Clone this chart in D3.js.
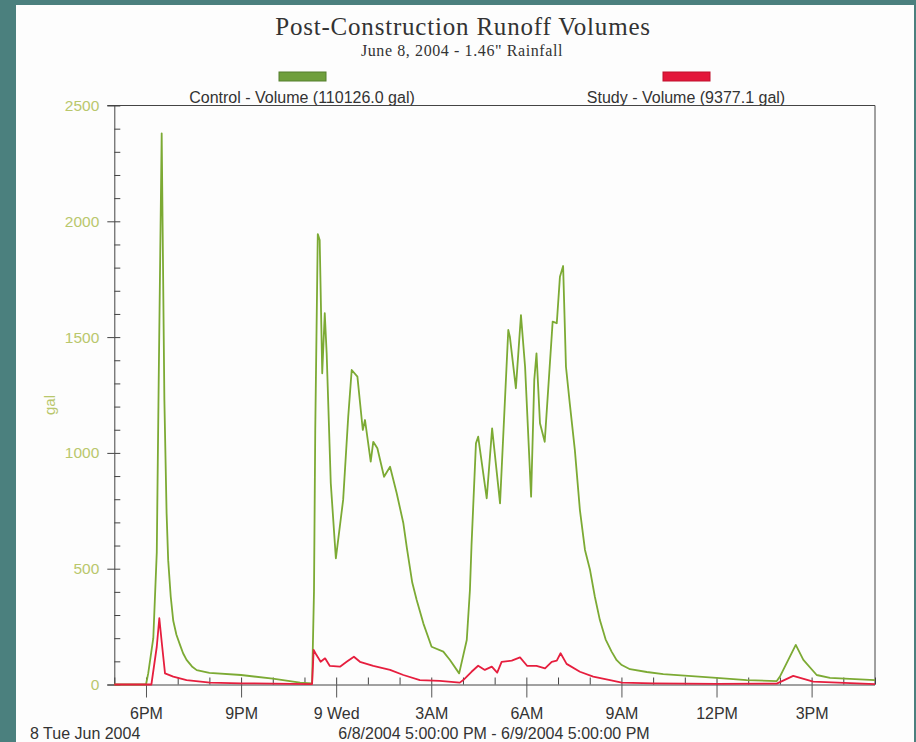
<!DOCTYPE html>
<html>
<head>
<meta charset="utf-8">
<script src="https://cdn.jsdelivr.net/npm/d3@7"></script>
<style>
  html, body { margin: 0; padding: 0; background: #4b807e; }
  #chart { position: absolute; left: 0; top: 0; }
  text { font-family: Arial, "Liberation Sans", sans-serif; }
</style>
</head>
<body>
<div id="chart"></div>
<script>
// hours after 6/8/2004 5:00 PM, gallons
var controlSeries = [
  [0,0],[1.0,0],[1.07,48],[1.23,200],[1.34,570],[1.40,1300],[1.495,2380],[1.58,1228],
  [1.65,739],[1.70,537],[1.78,380],[1.86,275],[1.96,215],[2.07,172],[2.17,135],[2.28,106],
  [2.45,78],[2.6,62],[3.0,50],[4.0,41],
  [5.0,25],[5.86,8],[6.24,5],[6.30,400],[6.34,1100],[6.42,1945],[6.48,1919],[6.56,1344],
  [6.64,1603],[6.70,1430],[6.83,869],[6.99,545],[7.22,797],[7.38,1156],[7.49,1358],
  [7.67,1329],[7.84,1099],[7.91,1142],[8.09,962],[8.17,1048],[8.30,1020],[8.51,897],
  [8.70,940],[8.91,826],[9.12,696],[9.23,590],[9.40,440],[9.54,365],[9.75,264],[10.01,163],
  [10.38,142],[10.59,106],[10.88,48],[11.12,192],[11.22,408],[11.27,600],[11.41,1041],
  [11.48,1070],[11.75,804],[11.92,1106],[12.17,782],[12.43,1531],[12.48,1502],[12.67,1279],
  [12.83,1595],[12.96,1372],[13.15,811],[13.25,1315],[13.32,1430],[13.43,1128],[13.58,1048],
  [13.83,1567],[13.96,1560],[14.06,1761],[14.16,1807],[14.25,1372],[14.37,1214],[14.53,1013],
  [14.69,753],[14.85,581],[15.01,494],[15.16,380],[15.32,278],[15.50,195],[15.69,142],
  [15.85,105],[16.01,84],[16.27,66],[16.8,54],
  [17.32,45],[19.0,29],[19.95,19],[20.9,15],[21.0,34],[21.50,171],[21.74,106],[22.16,41],
  [22.58,29],[24,19]
];
var studySeries = [
  [0,0],[1.17,0],[1.34,163],[1.42,286],[1.50,178],[1.60,48],[1.86,34],[2.28,19],[3.02,8],
  [4,5],[5,4],[6.2,2],[6.24,2],[6.29,149],[6.38,127],[6.51,98],[6.65,113],[6.80,80],
  [7.12,77],[7.33,98],[7.56,120],[7.75,98],[8.17,80],[8.70,63],[9.12,41],[9.64,19],
  [10.27,16],[10.90,8],[11.01,19],[11.27,55],[11.48,81],[11.69,63],[11.91,77],[12.08,51],
  [12.22,98],[12.54,103],[12.80,117],[13.03,80],[13.32,80],[13.59,70],[13.80,98],[13.96,103],
  [14.08,135],[14.27,89],[14.69,55],[15.11,34],[15.64,19],[16.01,8],[17,5],[19,3],
  [20.9,4],[21.42,37],[22.05,12],[24,2]
];
var seriesNames = ["Control - Volume (110126.0 gal)", "Study - Volume (9377.1 gal)"];
var seriesColors = ["#7caa34", "#e61e3e"];
var yMajor = [0, 500, 1000, 1500, 2000, 2500];
var chartTitle = "Post-Construction Runoff Volumes";
var chartSubtitle = "June 8, 2004 - 1.46\" Rainfall";
var dayLabel = "8 Tue Jun 2004";
var rangeLabel = "6/8/2004 5:00:00 PM - 6/9/2004 5:00:00 PM";

var W = 916, H = 742;
var margin = {top: 105.5, right: 41, bottom: 57.5, left: 114.3},
    width = W - margin.left - margin.right,
    height = H - margin.top - margin.bottom;

var start = new Date(2004, 5, 8, 17, 0, 0);
var end = new Date(2004, 5, 9, 17, 0, 0);
function toDate(h) { return new Date(start.getTime() + h * 3600e3); }

var x = d3.scaleTime().domain([start, end]).range([0, width]);
var y = d3.scaleLinear().domain([0, 2500]).range([height, 0]);

var svg = d3.select("#chart").append("svg")
    .attr("width", W).attr("height", H);

// white sheet
svg.append("rect").attr("x", 16).attr("y", 5).attr("width", 898).attr("height", H - 5)
   .attr("fill", "#fdfdfd");

// titles
svg.append("text").attr("x", 463).attr("y", 35).attr("text-anchor", "middle")
   .style("font-family", "'Liberation Serif', 'Times New Roman', serif")
   .style("font-size", "25px").style("letter-spacing", "0.8px")
   .attr("fill", "#333").text(chartTitle);
svg.append("text").attr("x", 462).attr("y", 56).attr("text-anchor", "middle")
   .style("font-family", "'Liberation Serif', 'Times New Roman', serif")
   .style("font-size", "16px").style("letter-spacing", "0.6px")
   .attr("fill", "#333").text(chartSubtitle);

// legend
var legendX = [302, 686];
seriesNames.forEach(function(name, i) {
  svg.append("rect").attr("x", legendX[i] - 23).attr("y", 72).attr("width", 47).attr("height", 9)
     .attr("fill", i == 0 ? "#6f9f3c" : "#e3173a")
     .attr("stroke", i == 0 ? "#557f2c" : "#c0102c").attr("stroke-width", 1);
  svg.append("text").attr("x", legendX[i]).attr("y", 103).attr("text-anchor", "middle")
     .style("font-size", "16px").attr("fill", "#333").text(name);
});

var g = svg.append("g")
    .attr("transform", "translate(" + margin.left + "," + margin.top + ")");

// frame: top and right
g.append("line").attr("x1", -7).attr("x2", width).attr("y1", 0).attr("y2", 0)
 .attr("stroke", "#444").attr("stroke-width", 1);
g.append("line").attr("x1", width).attr("x2", width).attr("y1", 0).attr("y2", height)
 .attr("stroke", "#444").attr("stroke-width", 1);

// y axis: minor ticks inside, major ticks with labels
var yMinor = d3.range(0, 2501, 100);
g.append("g").attr("class", "y minor")
  .call(d3.axisRight(y).tickValues(yMinor).tickSize(6).tickFormat(""))
  .call(function(s) { s.select(".domain").remove(); });
var yAx = g.append("g").attr("class", "y axis")
  .call(d3.axisLeft(y).tickValues(yMajor).tickSize(7).tickSizeOuter(0).tickPadding(8)
        .tickFormat(d3.format("d")));
yAx.selectAll("text").style("font-size", "15.5px").style("font-family", "Arial, 'Liberation Sans', sans-serif")
   .attr("fill", "#b9c76c");
g.selectAll(".tick line").attr("stroke", "#444");
g.selectAll(".domain").attr("stroke", "#444");

svg.append("text").attr("transform", "translate(55,405) rotate(-90)")
   .attr("text-anchor", "middle").style("font-size", "15px").attr("fill", "#b9c76c").text("gal");

// x axis: hourly minor ticks pointing up, 3-hour major ticks across
g.append("g").attr("transform", "translate(0," + height + ")")
  .call(d3.axisTop(x).ticks(d3.timeHour.every(1)).tickSize(7).tickFormat(""))
  .call(function(s) { s.select(".domain").remove(); })
  .selectAll("line").attr("stroke", "#444");

var fmt = function(d) {
  if (d.getHours() == 0) return d3.timeFormat("%-d %a")(d);
  return d3.timeFormat("%-I%p")(d);
};
var xAx = g.append("g").attr("transform", "translate(0," + height + ")")
  .call(d3.axisBottom(x).ticks(d3.timeHour.every(3)).tickSize(13).tickSizeOuter(0)
        .tickPadding(10).tickFormat(fmt));
xAx.select(".domain").attr("stroke", "#444").attr("d", "M-7,0.5H" + width);
xAx.selectAll("line").attr("stroke", "#555");
xAx.selectAll("text").style("font-size", "16px").style("font-family", "Arial, 'Liberation Sans', sans-serif")
   .attr("fill", "#333");

svg.append("text").attr("x", 30).attr("y", 739).style("font-size", "16px").attr("fill", "#333").text(dayLabel);
svg.append("text").attr("x", 494).attr("y", 739).attr("text-anchor", "middle")
   .style("font-size", "16px").attr("fill", "#333").text(rangeLabel);

// series lines
var line = d3.line()
    .x(function(d) { return x(toDate(d[0])); })
    .y(function(d) { return y(d[1]); });

g.append("path").datum(controlSeries)
  .attr("fill", "none").attr("stroke", seriesColors[0]).attr("stroke-width", 1.8)
  .attr("stroke-linejoin", "round").attr("d", line);
g.append("path").datum(studySeries)
  .attr("fill", "none").attr("stroke", seriesColors[1]).attr("stroke-width", 1.8)
  .attr("stroke-linejoin", "round").attr("d", line);
</script>
</body>
</html>
